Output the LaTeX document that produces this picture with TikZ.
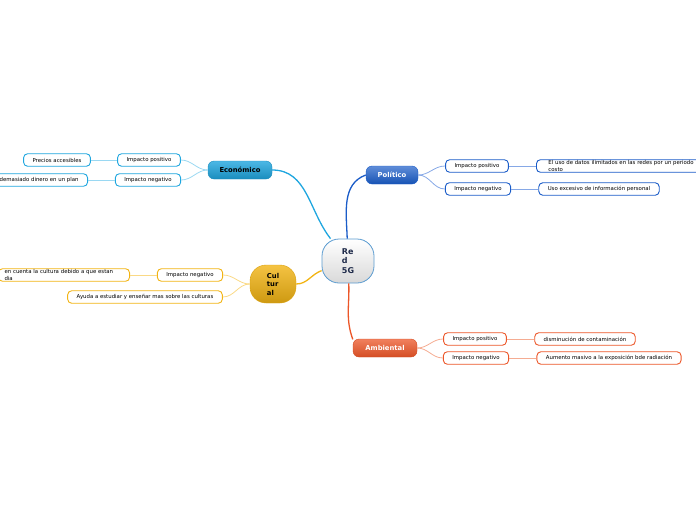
\documentclass[tikz,border=0pt]{standalone}
\usepackage{fontspec}
\setmainfont{DejaVu Sans}

\definecolor{ecoline}{HTML}{1FA6DF}
\definecolor{ecolight}{HTML}{9AD8F2}
\definecolor{polline}{HTML}{1A5CC8}
\definecolor{pollight}{HTML}{86A8E6}
\definecolor{culline}{HTML}{F2B414}
\definecolor{cullight}{HTML}{FAD985}
\definecolor{ambline}{HTML}{EC5628}
\definecolor{amblight}{HTML}{F5AC92}
\definecolor{redline}{HTML}{5A9BD0}
\definecolor{redtext}{HTML}{1F2B4A}

\begin{document}
\begin{tikzpicture}[x=1pt, y=-1pt,
  main/.style={draw, rounded corners=6pt, minimum height=18pt, inner xsep=9pt,
    font=\bfseries\fontsize{6.8}{8}\selectfont},
  sub/.style={draw, fill=white, rounded corners=4pt, line width=0.9pt,
    minimum height=12.5pt, inner xsep=9pt, inner ysep=1pt,
    font=\fontsize{5.4}{6.4}\selectfont},
  link/.style={line width=0.8pt},
  branch/.style={line width=1.3pt}]

  \useasboundingbox (0,0) rectangle (696,520);

  % tema central
  \node[draw=redline, line width=0.8pt, rounded corners=17pt, top color=white,
    bottom color=gray!30, minimum width=52pt, minimum height=44pt, align=left,
    text=redtext, font=\bfseries\fontsize{8}{9.5}\selectfont] (red) at (348,261) {Re\\d\\5G};

  % ramas principales
  \node[main, draw=ecoline!85!black, top color=ecoline!80!white, bottom color=ecoline!85!black,
    minimum width=64pt] (eco) at (240,170) {Económico};
  \node[main, draw=polline, top color=polline!70!white, bottom color=polline!90!black,
    text=white, minimum width=52pt] (pol) at (392,175) {Político};
  \node[main, draw=culline!90!black, rounded corners=16pt, top color=culline!80!white,
    bottom color=culline!85!black, minimum width=46pt, minimum height=38pt, align=left,
    font=\bfseries\fontsize{6.8}{8.5}\selectfont] (cul) at (273,284) {Cul\\tur\\al};
  \node[main, draw=ambline!90!black, top color=ambline!75!white, bottom color=ambline!90!black,
    text=white, minimum width=64pt] (amb) at (385,348) {Ambiental};

  % Económico
  \node[sub, draw=ecoline] (ecoPos) at (149,160) {Impacto positivo};
  \node[sub, draw=ecoline] (ecoNeg) at (148,180) {Impacto negativo};
  \node[sub, draw=ecoline] (ecoPrecios) at (57,160) {Precios accesibles};
  \node[sub, draw=ecoline, anchor=east] (ecoPlan) at (88,180) {demasiado dinero en un plan};

  % Político
  \node[sub, draw=polline] (polPos) at (477,166) {Impacto positivo};
  \node[sub, draw=polline] (polNeg) at (478,189) {Impacto negativo};
  \node[sub, draw=polline, anchor=west, align=left, inner xsep=12pt] (polDatos) at (536,166)
    {El uso de datos ilimitados en las redes por un periodo\\costo};
  \node[sub, draw=polline] (polUso) at (599,189) {Uso excesivo de información personal};

  % Cultural
  \node[sub, draw=culline] (culNeg) at (190,275) {Impacto negativo};
  \node[sub, draw=culline, anchor=east, align=left, text width=119pt, inner xsep=6pt] (culCuenta)
    at (130,275) {en cuenta la cultura debido a que estan\\dia};
  \node[sub, draw=culline] (culAyuda) at (145,297) {Ayuda a estudiar y enseñar mas sobre las culturas};

  % Ambiental
  \node[sub, draw=ambline] (ambPos) at (475,339) {Impacto positivo};
  \node[sub, draw=ambline] (ambNeg) at (476,358) {Impacto negativo};
  \node[sub, draw=ambline] (ambDism) at (585,339) {disminución de contaminación};
  \node[sub, draw=ambline] (ambRad) at (609,358) {Aumento masivo a la exposición bde radiación};

  \path (eco.east) edge[branch, draw=ecoline, out=0, in=128] (red)
        (red) edge[branch, draw=polline, out=92, in=200] (pol.west)
        (red) edge[branch, draw=culline, out=200, in=0] (cul.east)
        (red) edge[branch, draw=ambline, out=-88, in=110] (amb.165);

  \path (eco.west) edge[link, draw=ecolight, out=180, in=0] (ecoPos.east)
        (eco.west) edge[link, draw=ecolight, out=180, in=0] (ecoNeg.east)
        (ecoPos) edge[link, draw=ecolight] (ecoPrecios)
        (ecoNeg) edge[link, draw=ecolight] (ecoPlan);

  \path (pol.east) edge[link, draw=pollight, out=0, in=180] (polPos.west)
        (pol.east) edge[link, draw=pollight, out=0, in=180] (polNeg.west)
        (polPos) edge[link, draw=pollight] (polDatos)
        (polNeg) edge[link, draw=pollight] (polUso);

  \path (cul.west) edge[link, draw=cullight, out=180, in=0] (culNeg.east)
        (cul.west) edge[link, draw=cullight, out=180, in=0] (culAyuda.east)
        (culNeg) edge[link, draw=cullight] (culCuenta);

  \path (amb.east) edge[link, draw=amblight, out=0, in=180] (ambPos.west)
        (amb.east) edge[link, draw=amblight, out=0, in=180] (ambNeg.west)
        (ambPos) edge[link, draw=amblight] (ambDism)
        (ambNeg) edge[link, draw=amblight] (ambRad);
\end{tikzpicture}
\end{document}
